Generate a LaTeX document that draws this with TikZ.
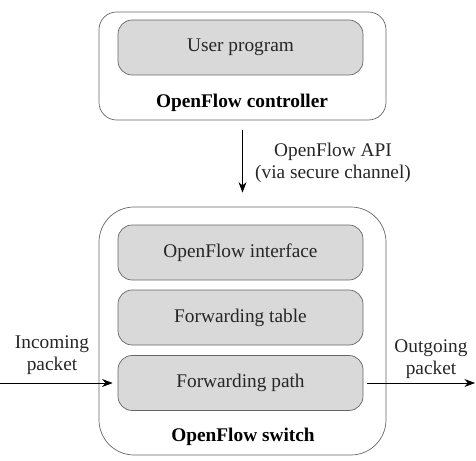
\documentclass[tikz,border=0pt]{standalone}
\usepackage{fontspec}
\setmainfont{Liberation Serif}
\usepackage{tikz}
\usetikzlibrary{arrows.meta,positioning}
\tikzset{
    outer box/.style={
        draw=black!60,thin,rounded corners=10pt,
        minimum width=5.74cm
    },
    layer box/.style={
        draw=black!60,thin,rounded corners=8pt,
        fill=black!15,
        minimum width=4.9cm,minimum height=1.1cm,
        font=\fontsize{11}{13}\selectfont,text=black!85
    },
    box label/.style={font=\fontsize{11}{13}\selectfont\bfseries},
    side label/.style={align=center,font=\fontsize{11}{12.5}\selectfont,text=black!85},
    >={Stealth[length=6pt,width=4.5pt]}
}
\begin{document}
\begin{tikzpicture}
\useasboundingbox (0,0) rectangle (9.52,9.2);
% controller
\node[outer box,minimum height=2.16cm] (ctrl) at (4.85,7.88) {};
\node[layer box] (prog) at (4.81,8.25) {User program};
\node[box label] (ctrl_lbl) at (4.84,7.14) {OpenFlow controller};
% switch
\node[outer box,minimum height=4.96cm,rounded corners=20pt] (switch) at (4.85,2.58) {};
\foreach \y/\name/\txt in {4.15/iface/OpenFlow interface,2.85/table/Forwarding table,1.54/path/Forwarding path}
    \node[layer box] (\name) at (4.81,\y) {\txt};
\node[box label] (switch_lbl) at (4.86,0.46) {OpenFlow switch};
% api
\draw[->,thin] (ctrl.south) ++(0,-0.2) coordinate (api_top) -- ([yshift=0.28cm]switch.north);
\node[side label,anchor=west] (api) at (4.98,5.95) {OpenFlow API\\(via secure channel)};
% packets
\coordinate (in_end) at (0,1.54);
\coordinate (out_end) at (9.5,1.54);
\draw[->,thin,shorten >=0.1cm] (in_end) -- (path.west);
\draw[->,thin,shorten <=0.08cm] (path.east) -- (out_end);
\node[side label] (in_lbl) at (1.04,2.1) {Incoming\\packet};
\node[side label] (out_lbl) at (8.62,2.02) {Outgoing\\packet};
\end{tikzpicture}
\end{document}
